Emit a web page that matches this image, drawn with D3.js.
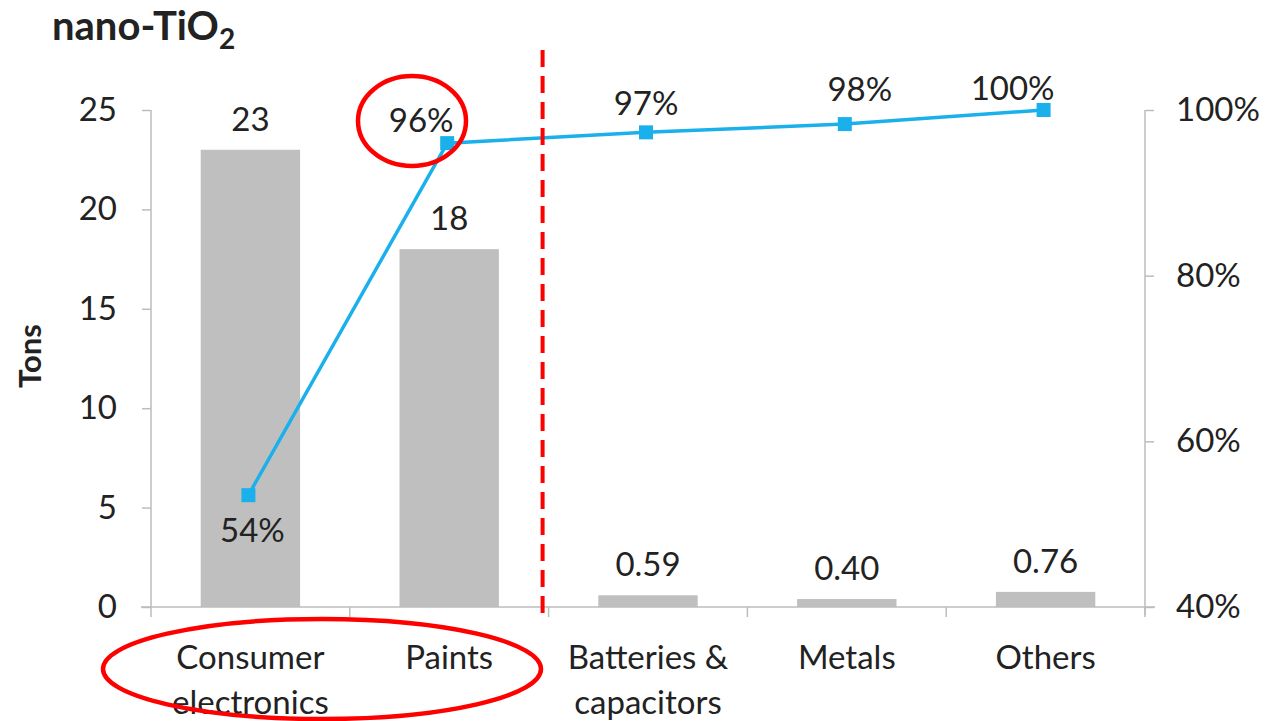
<!DOCTYPE html>
<html><head><meta charset="utf-8">
<script src="https://cdn.jsdelivr.net/npm/d3@7"></script>
<style>body{margin:0;background:#fff}svg text{font-family:Lato,"Open Sans","Liberation Sans",sans-serif;fill:#222}</style>
</head><body><svg id="c" width="1266" height="721"></svg>
<script>
const categories = [["Consumer","electronics"],["Paints"],["Batteries &","capacitors"],["Metals"],["Others"]];
const tons = [23, 18, 0.59, 0.40, 0.76];
const tonLabels = ["23","18","0.59","0.40","0.76"];
const cumulative = [53.5, 96.0, 97.3, 98.3, 100];
const cumLabels = ["54%","96%","97%","98%","100%"];
const leftTicks = [0,5,10,15,20,25];
const rightTicks = [40,60,80,100];

const svg = d3.select("#c");
const L = 151, R = 1145, T = 110, B = 607;
const FS = 33;
const keys = categories.map(d => d.join(" "));
const x = d3.scaleBand().domain(keys).range([L, R]).paddingInner(0.5).paddingOuter(0.25);
const y = d3.scaleLinear().domain([0, 25]).range([B, T]);
const y2 = d3.scaleLinear().domain([40, 100]).range([B, T]);

// bars
svg.selectAll("rect.bar").data(tons).join("rect")
  .attr("x", (d,i) => x(keys[i])).attr("width", x.bandwidth())
  .attr("y", d => y(d)).attr("height", d => B - y(d)).attr("fill", "#bfbfbf");

// axes
const axCol = "#bdbdbd";
const gl = svg.append("g").attr("transform", `translate(${L},0)`)
  .call(d3.axisLeft(y).tickValues(leftTicks).tickSize(9).tickPadding(25));
const gr = svg.append("g").attr("transform", `translate(${R},0)`)
  .call(d3.axisRight(y2).tickValues(rightTicks).tickSize(9).tickFormat(d => d + "%").tickPadding(22));
[gl, gr].forEach(g => {
  g.select(".domain").attr("stroke", axCol).attr("stroke-width", 1.5).attr("d", g === gl ? `M0,${T}V${B}` : `M0,${T}V${B+8}`);
  g.selectAll(".tick line").attr("stroke", axCol).attr("stroke-width", 1.5);
  g.selectAll(".tick text").attr("font-size", FS).style("fill", "#222");
});
// x axis baseline and boundary ticks
svg.append("line").attr("x1", L - 10).attr("x2", R + 10).attr("y1", B).attr("y2", B).attr("stroke", axCol).attr("stroke-width", 1.5);
const step = x.step();
d3.range(0, 6).forEach(i => {
  const xx = L + i * step;
  svg.append("line").attr("x1", xx).attr("x2", xx).attr("y1", B).attr("y2", B + 10).attr("stroke", axCol).attr("stroke-width", 1.5);
});

// category labels
categories.forEach((lines, i) => {
  const t = svg.append("text").attr("text-anchor", "middle").attr("font-size", FS)
    .attr("x", x(keys[i]) + x.bandwidth()/2).attr("y", 669);
  lines.forEach((s, j) => t.append("tspan").attr("x", x(keys[i]) + x.bandwidth()/2).attr("dy", j ? 45 : 0).text(s));
});

// bar labels
svg.selectAll("text.bl").data(tons).join("text")
  .attr("text-anchor", "middle").attr("font-size", FS)
  .attr("x", (d,i) => x(keys[i]) + x.bandwidth()/2).attr("y", d => y(d) - 19).text((d,i) => tonLabels[i]);

// line
const cx = i => x(keys[i]) + x.bandwidth()/2 - 2;
const blue = "#1ab0ec";
svg.append("path").datum(cumulative)
  .attr("d", d3.line().x((d,i) => cx(i)).y(d => y2(d)))
  .attr("fill", "none").attr("stroke", blue).attr("stroke-width", 3.5);
svg.selectAll("rect.mk").data(cumulative).join("rect")
  .attr("x", (d,i) => cx(i) - 7).attr("y", d => y2(d) - 7).attr("width", 14).attr("height", 14).attr("fill", blue);
const off = [[4, 47], [-26, -11], [0, -17], [15, -23], [-31, -10]];
svg.selectAll("text.cl").data(cumulative).join("text")
  .attr("text-anchor", "middle").attr("font-size", FS)
  .attr("x", (d,i) => cx(i) + off[i][0]).attr("y", (d,i) => y2(d) + off[i][1]).text((d,i) => cumLabels[i]);

// divider
const dx = (x(keys[1]) + x.bandwidth() + x(keys[2])) / 2 - 6;
svg.append("line").attr("x1", dx).attr("x2", dx).attr("y1", 50).attr("y2", 617)
  .attr("stroke", "#f00").attr("stroke-width", 4).attr("stroke-dasharray", "17,9");

// highlight ellipses
svg.append("ellipse").attr("cx", 412).attr("cy", 121).attr("rx", 54).attr("ry", 45)
  .attr("fill", "none").attr("stroke", "#f00").attr("stroke-width", 4.5);
svg.append("ellipse").attr("cx", 322).attr("cy", 669).attr("rx", 219).attr("ry", 50)
  .attr("fill", "none").attr("stroke", "#f00").attr("stroke-width", 4.5);

// title + axis title
const tt = svg.append("text").attr("x", 52).attr("y", 40).attr("font-size", 40).attr("font-weight", "bold").text("nano-TiO");
tt.append("tspan").attr("font-size", 28).attr("dy", 9).text("2");
svg.append("text").attr("transform", "translate(41,356) rotate(-90)").attr("text-anchor", "middle")
  .attr("font-size", 31).attr("font-weight", "bold").text("Tons");
</script></body></html>
